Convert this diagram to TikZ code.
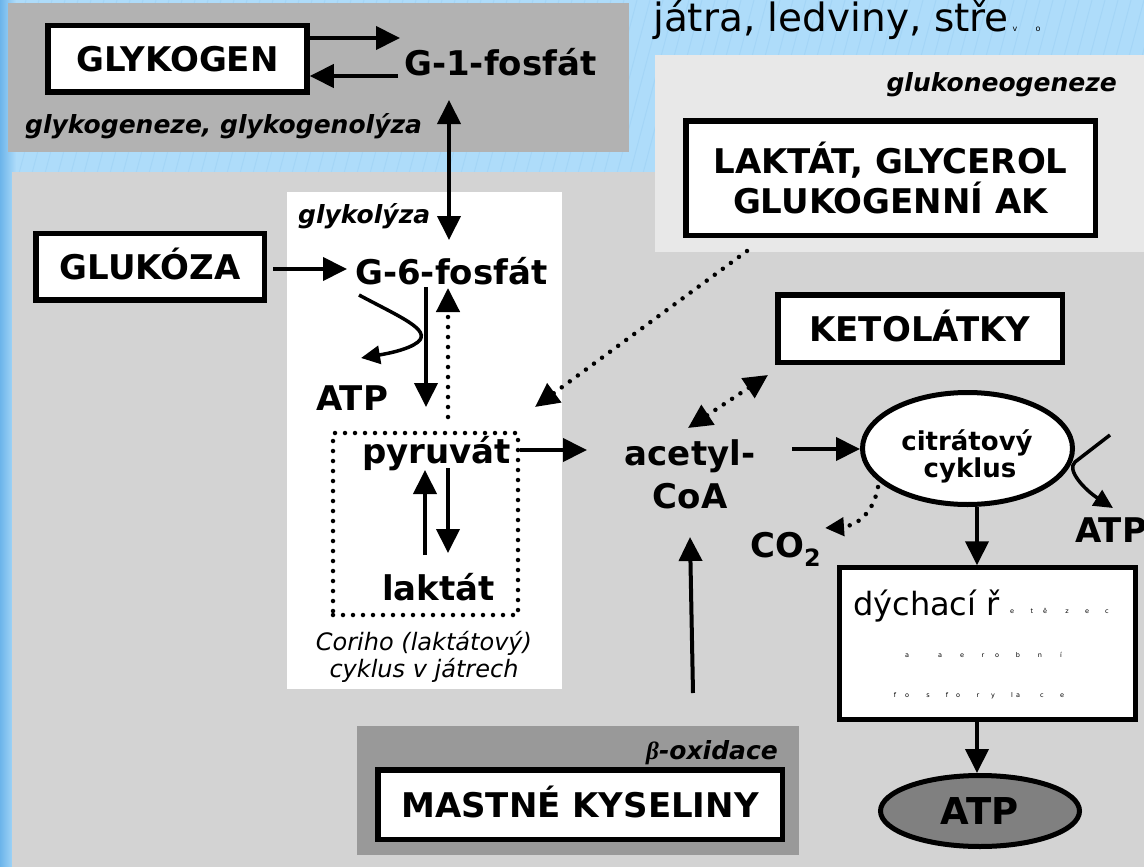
\documentclass[tikz,border=0pt]{standalone}
\usepackage{fontspec}
\setmainfont{DejaVu Sans}
\newfontfamily\greekfont{Liberation Serif}
\usetikzlibrary{arrows.meta,shapes.geometric}

\definecolor{sky}{HTML}{AEDCFA}
\definecolor{skydark}{HTML}{6CB4EA}
\definecolor{skystripe}{HTML}{98CDF3}
\definecolor{storeGray}{HTML}{B2B2B2}
\definecolor{cellGray}{HTML}{D3D3D3}
\definecolor{liverGray}{HTML}{E8E8E8}
\definecolor{fatGray}{HTML}{999999}
\definecolor{atpGray}{HTML}{808080}

\newcommand\fsBig{\fontsize{34}{40}\selectfont\bfseries}
\newcommand\fsLbl{\fontsize{25}{30}\selectfont\bfseries\itshape}
\newcommand\fsNote{\fontsize{24}{28}\selectfont\itshape}
\newcommand\fsCyc{\fontsize{26}{30}\selectfont\bfseries}
\newcommand\fsTiny{\fontsize{6.5}{7}\selectfont}

\tikzset{
  substance/.style={draw, line width=5.5pt, fill=white, font=\fsBig, inner sep=0pt,
    text height=25pt, text depth=0pt},
  metab/.style={font=\fsBig, inner sep=0pt, anchor=base west},
  pathlbl/.style={font=\fsLbl, inner sep=0pt},
  arr/.style={line width=4pt, -{Triangle[length=24pt,width=23pt]}},
  arrboth/.style={line width=4pt, {Triangle[length=24pt,width=23pt]}-{Triangle[length=24pt,width=23pt]}},
  dots/.style={line width=4.5pt, line cap=round, dash pattern=on 0pt off 10pt},
  tinych/.style={font=\fsTiny, inner sep=0pt, anchor=base},
}

\begin{document}
\begin{tikzpicture}[x=1pt,y=-1pt]
\useasboundingbox (0,0) rectangle (1144,867);

% slide background
\fill[sky] (0,0) rectangle (1144,867);
\foreach \x in {0,13,...,1380}
  \draw[skystripe, line width=1pt, opacity=0.45] (\x,0) -- ++(-230,867);
\shade[left color=skydark, right color=sky] (0,0) rectangle (16,867);

% compartments
\fill[storeGray] (8,3) rectangle (629,152);
\fill[cellGray] (12,172) rectangle (1144,867);
\fill[liverGray] (655,55) rectangle (1144,252);
\fill[white] (287,192) rectangle (562,689);
\fill[fatGray] (357,726) rectangle (799,855);

% organs of gluconeogenesis
\node[font=\fontsize{39}{44}\selectfont, inner sep=0pt, anchor=base west] (organs) at (653,32) {játra, ledviny, stře};
\node[tinych, font=\fontsize{8}{9}\selectfont] (organsV) at (1015,32) {v};
\node[tinych, font=\fontsize{8}{9}\selectfont] (organsO) at (1038,32) {o};

% glycogen store
\node[substance, minimum width=259pt, minimum height=66.5pt] (glykogen) at (177.5,59) {GLYKOGEN};
\node[metab] (g1p) at (404,76) {G-1-fosfát};
\node[pathlbl, anchor=base west] (lblStore) at (25,133) {glykogeneze, glykogenolýza};

% glycolysis
\node[substance, minimum width=228.5pt, minimum height=66.5pt] (glukoza) at (150,266.5) {GLUKÓZA};
\node[metab] (g6p) at (355,284) {G-6-fosfát};
\node[pathlbl, anchor=base west] (lblGly) at (298,223) {glykolýza};
\node[metab] (atpGly) at (316,410) {ATP};

% Cori cycle
\node[draw, dots, minimum width=185pt, minimum height=182pt, inner sep=0pt] (cori) at (425.5,524) {};
\node[metab] (pyr) at (362,463) {pyruvát};
\node[metab] (lak) at (382,600) {laktát};
\node[font=\fsNote, inner sep=0pt, anchor=base] (coriA) at (424,650) {Coriho (laktátový)};
\node[font=\fsNote, inner sep=0pt, anchor=base] (coriB) at (424,677) {cyklus v játrech};

% gluconeogenesis substrates
\node[pathlbl, anchor=base east] (lblGng) at (1117,92) {glukoneogeneze};
\node[draw, line width=5.5pt, fill=white, font=\fsBig, inner sep=0pt, align=center,
      minimum width=409.5pt, minimum height=114.5pt] (substr) at (890.5,178)
      {LAKTÁT, GLYCEROL\\GLUKOGENNÍ AK};

% acetyl-CoA and its fates
\node[font=\fsBig, inner sep=0pt, anchor=base] (acetyl) at (690,465) {acetyl-};
\node[font=\fsBig, inner sep=0pt, anchor=base] (coa) at (690,508) {CoA};
\node[substance, minimum width=284.5pt, minimum height=67.5pt] (keto) at (920,328.5) {KETOLÁTKY};

\node[ellipse, draw, line width=5pt, fill=white, minimum width=210pt, minimum height=112pt, inner sep=0pt] (citrat) at (967.5,448.5) {};
\node[font=\fsCyc, inner sep=0pt, anchor=base] (citratA) at (967,450) {citrátový};
\node[font=\fsCyc, inner sep=0pt, anchor=base] (citratB) at (970,477) {cyklus};

\node[metab] (co2) at (750,557) {CO\textsubscript{2}};
\node[metab] (atpCyc) at (1075,542) {ATP};

% respiratory chain
\node[draw, line width=5pt, fill=white, minimum width=295.5pt, minimum height=151.5pt, inner sep=0pt] (dych) at (987.5,643.5) {};
\node[font=\fontsize{32}{36}\selectfont, inner sep=0pt, anchor=base west] (dychTxt) at (853,615) {dýchací ř};
\foreach \x/\c in {1012/e,1032/t,1045/ě,1067/z,1087/e,1107/c}
  \node[tinych] at (\x,613) {\c};
\foreach \x/\c in {907/a,940/a,962/e,983/r,997/o,1018/b,1040/n,1061/í}
  \node[tinych] at (\x,657) {\c};
\foreach \x/\c in {895/f,907/o,928/s,947/f,958/o,978/r,993/y,1012/l,1018/a,1042/c,1062/e}
  \node[tinych] at (\x,697) {\c};

\node[ellipse, draw, line width=5pt, fill=atpGray, minimum width=199pt, minimum height=71pt, inner sep=0pt,
      font=\fontsize{37}{40}\selectfont\bfseries, text height=27pt, text depth=0pt] (atpEnd) at (980,811) {ATP};

% fatty acids
\node[pathlbl, anchor=base east] (lblBeta) at (778,759) {{\greekfont β}-oxidace};
\node[substance, minimum width=404.5pt, minimum height=69.5pt] (fa) at (580,804.5) {MASTNÉ KYSELINY};

% connector end points
\coordinate (g1in) at (400,38);
\coordinate (g1out) at (398,76);
\coordinate (g1s) at (449,100);
\coordinate (g6n) at (449,240);
\coordinate (glkOut) at (273,269);
\coordinate (g6w) at (347,269);
\coordinate (g6s) at (426,287);
\coordinate (pyrN) at (426,407);
\coordinate (pyrUp) at (448,417);
\coordinate (g6back) at (448,288);
\coordinate (bendStart) at (359,295);
\coordinate (atpTip) at (361,358);
\coordinate (lakUp) at (425,555);
\coordinate (pyrS) at (425,470);
\coordinate (pyrDown) at (448,468);
\coordinate (lakN) at (448,553);
\coordinate (accIn) at (587,450);
\coordinate (gngOut) at (747,251);
\coordinate (gngIn) at (535,407);
\coordinate (accKeto) at (688,428);
\coordinate (ketoIn) at (768,375);
\coordinate (accOut) at (792,449);
\coordinate (sideIn) at (1110,435);
\coordinate (sideTouch) at (1075,462);
\coordinate (atpCycTip) at (1113,508);
\coordinate (co2Start) at (878,487);
\coordinate (co2Tip) at (825,528);
\coordinate (respX) at (977,0);
\coordinate (faOut) at (693,693);
\coordinate (accS) at (690,537);

% glycogen metabolism
\draw[arr] (glykogen.east |- g1in) -- (g1in);
\draw[arr] (g1out) -- (glykogen.east |- g1out);
\draw[arrboth] (g1s) -- (g6n);

% glycolysis
\draw[arr] (glkOut) -- (g6w);
\draw[arr] (g6s) -- (pyrN);
\draw[dots, -{Triangle[length=24pt,width=23pt]}] (pyrUp) -- (g6back);
\draw[line width=3.5pt, -{Triangle[length=19pt,width=18pt]}] (bendStart)
  .. controls (400,317) and (432,330) .. (418,342)
  .. controls (408,350) and (385,354) .. (atpTip);

% Cori cycle
\draw[arr] (lakUp) -- (pyrS);
\draw[arr] (pyrDown) -- (lakN);
\draw[arr] (cori.east |- accIn) -- (accIn);

% gluconeogenesis and ketone bodies
\draw[dots, -{Triangle[length=24pt,width=23pt]}] (gngOut) -- (gngIn);
\draw[dots, {Triangle[length=24pt,width=23pt]}-{Triangle[length=24pt,width=23pt]}] (accKeto) -- (ketoIn);

% citrate cycle and respiration
\draw[arr] (accOut) -- (citrat.west |- accOut);
\draw[line width=3.5pt, -{Triangle[length=19pt,width=18pt]}] (sideIn) -- (sideTouch)
  .. controls (1066,470) and (1085,490) .. (atpCycTip);
\draw[dots, -{Triangle[length=19pt,width=18pt]}] (co2Start) .. controls (873,515) and (855,526) .. (co2Tip);
\draw[arr] (citrat.south -| respX) -- (dych.north -| respX);
\draw[arr] (dych.south -| respX) -- (atpEnd.north -| respX);

% beta-oxidation
\draw[arr] (faOut) -- (accS);
\end{tikzpicture}
\end{document}
